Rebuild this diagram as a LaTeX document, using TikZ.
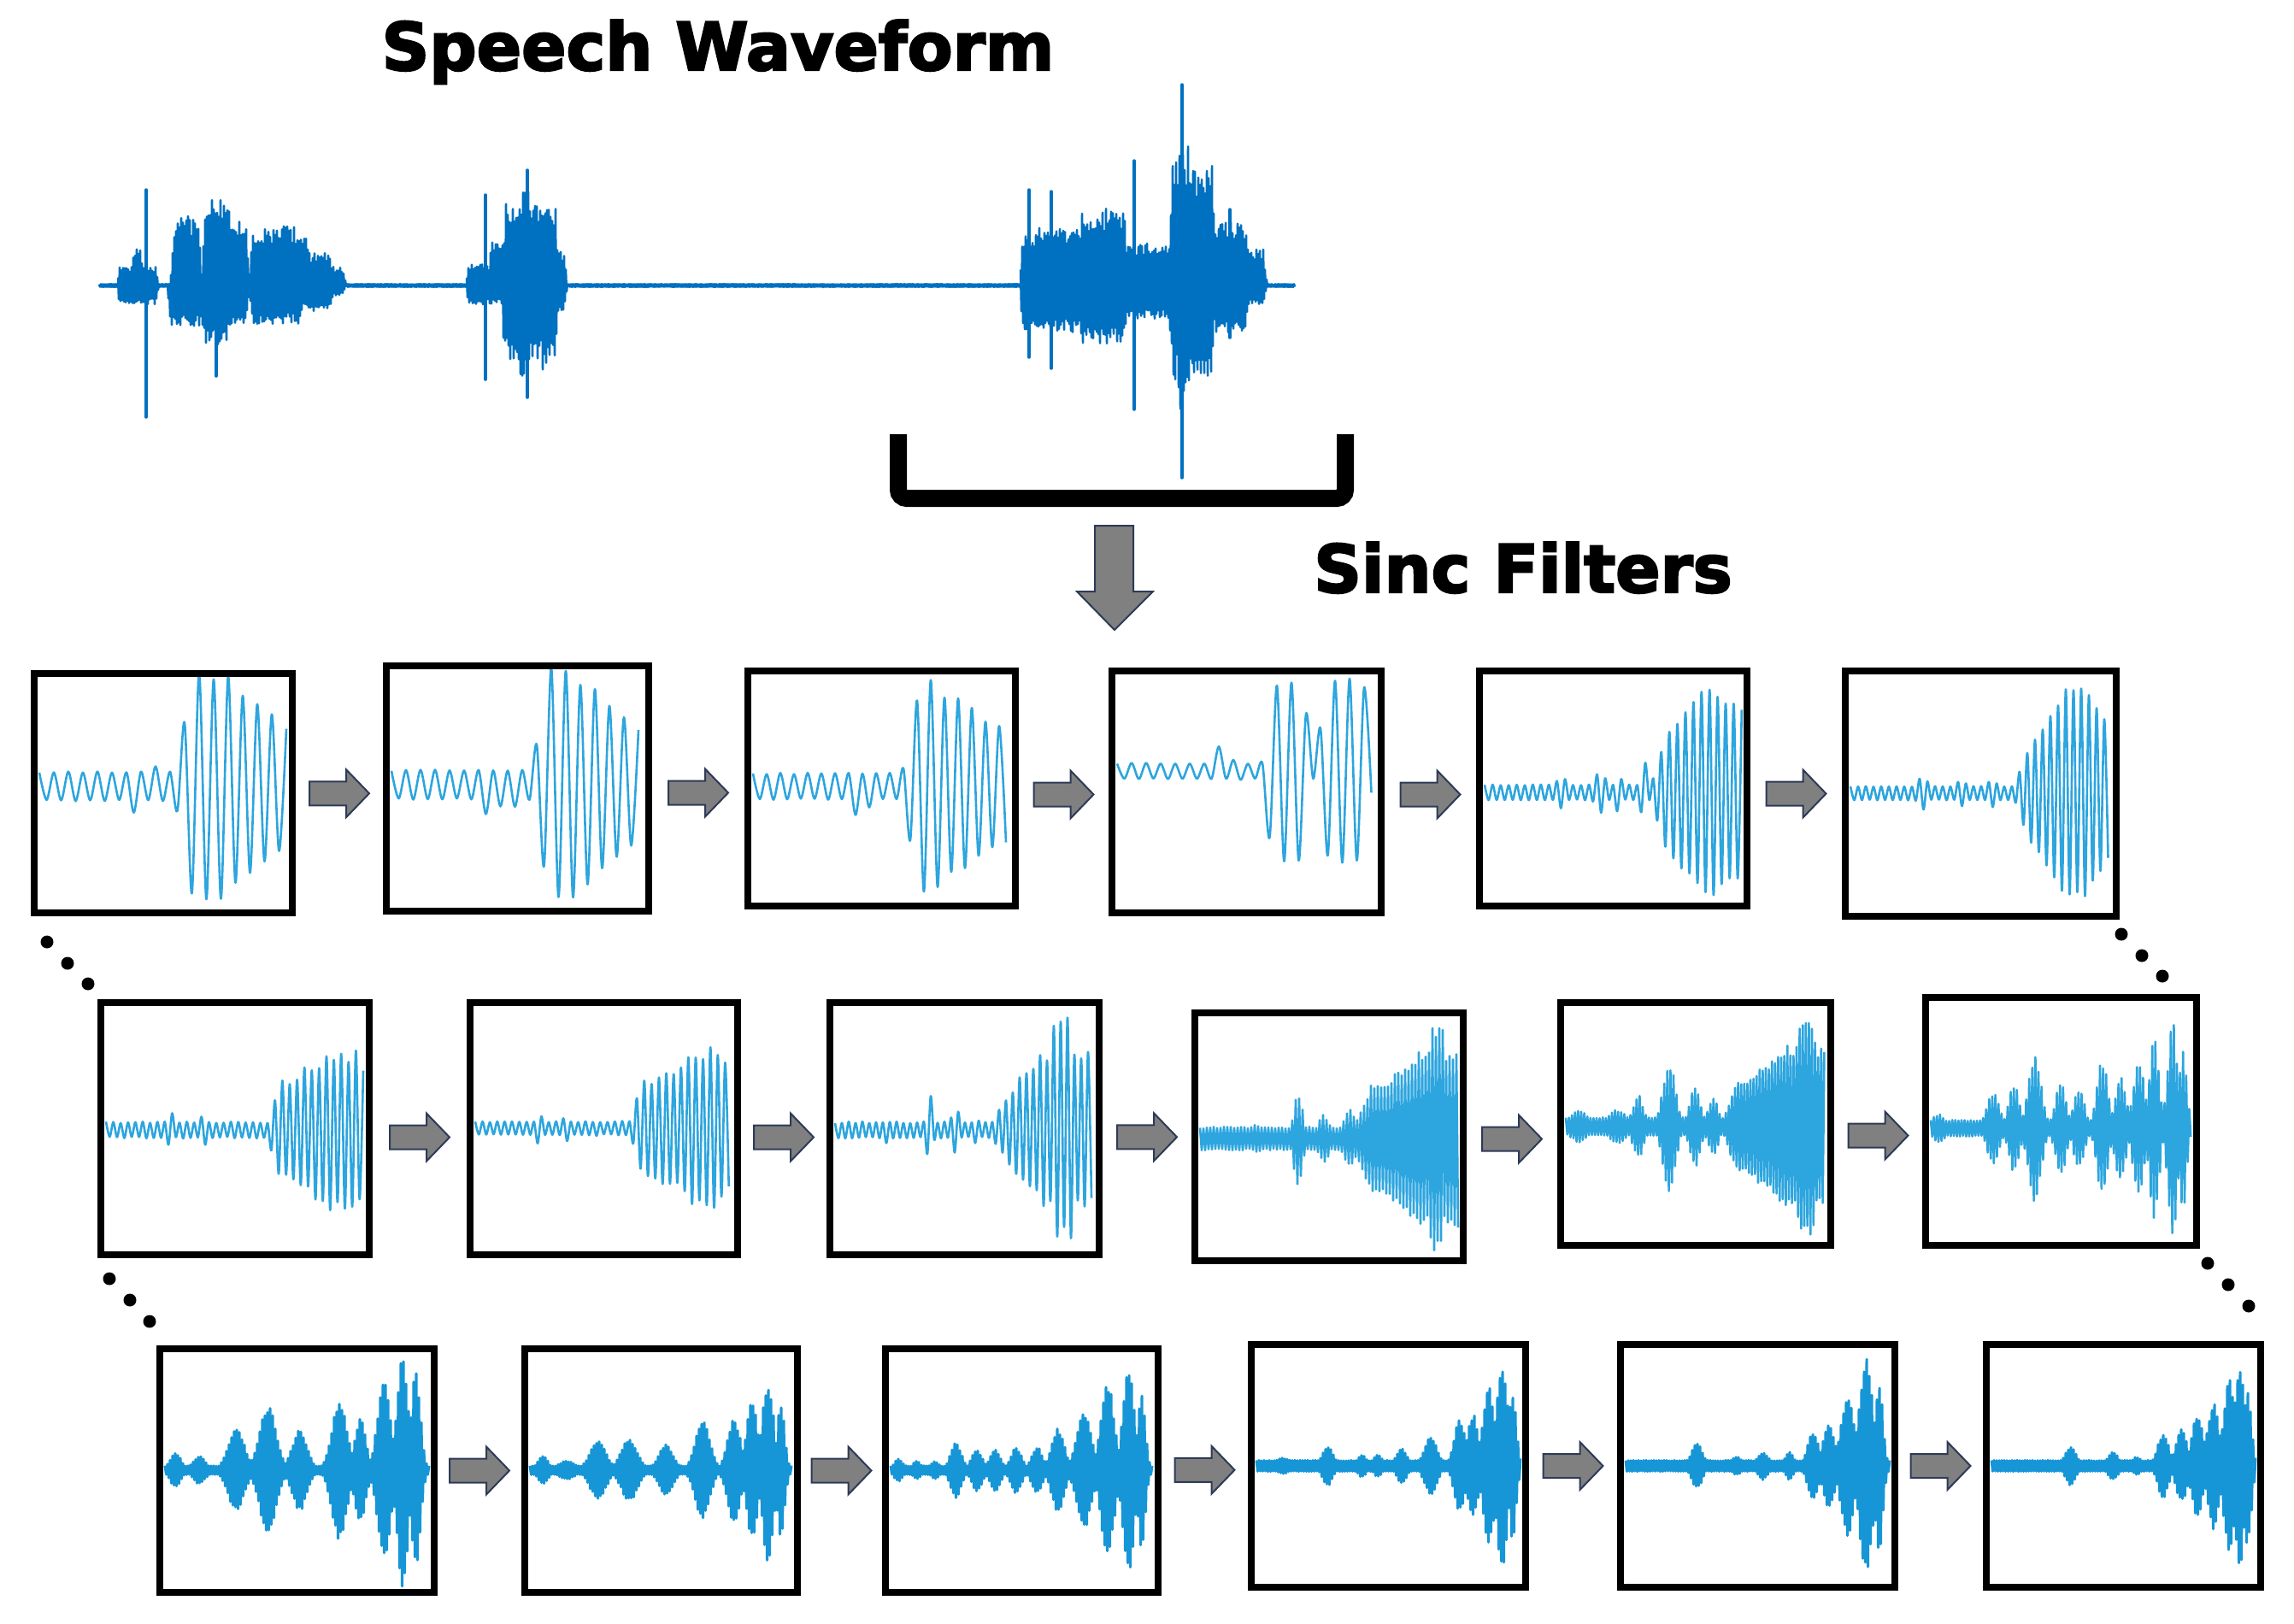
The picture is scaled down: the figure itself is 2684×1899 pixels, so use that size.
\documentclass[tikz,border=0pt]{standalone}
\usepackage{fontspec}
\setmainfont{DejaVu Sans}
\newfontfamily\heavyfont[FakeBold=3]{DejaVu Sans Bold}
\usetikzlibrary{calc,fit}

\definecolor{speechblue}{RGB}{0,112,192}
\definecolor{filterblue}{RGB}{45,165,222}
\definecolor{filterdeep}{RGB}{22,150,214}
\definecolor{arrowgray}{RGB}{128,128,128}
\definecolor{arrowedge}{RGB}{45,58,88}

\tikzset{
  plotbox/.style={draw=black, line width=0.75mm, inner sep=0pt},
  blockarrow/.style={fill=arrowgray, draw=arrowedge, line width=0.2mm},
  speechline/.style={draw=speechblue, line width=0.25mm, line join=round},
  speechspike/.style={draw=speechblue, line width=0.35mm, line cap=round},
  filterline/.style={draw=filterblue, line width=0.26mm, line join=round},
  denseline/.style={draw=filterdeep, line width=0.3mm, line join=round},
  bigtitle/.style={font=\fontsize{22}{26}\selectfont\heavyfont, inner sep=0pt, anchor=base},
  declare function={
    bp(\qq,\qc,\qw)=1/exp(pow(min(abs(\qq-\qc)/\qw,3),2));
    rp(\qq,\qa,\qb)=min(1,max(0,(\qq-\qa)/(\qb-\qa)));
    tr(\qq,\qa,\qb,\qs)=max(0,min(1,(\qq-\qa)/\qs+1,(\qb-\qq)/\qs+1));
    sg(\qq)=1-2*mod(round(\qq),2);
  }
}

% one piece of the speech signal, #3 = upper and #4 = lower amplitude
\newcommand{\speechpart}[4]{%
  \pgfmathtruncatemacro{\nsp}{#2-#1+1}
  \draw[speechline] plot[domain=#1:#2, samples=\nsp, variable=\x]
    ({\x}, {334-(0.5*(1+sg(\x))*(#3)-0.5*(1-sg(\x))*(#4))*(1-0.3*rnd)});
}

% name, x1, y1, x2, y2, baseline, half period, style, envelope in \q
\newcommand{\filterbox}[9]{%
  \pgfmathsetmacro{\hh}{(#5-#3)/2-6}
  \pgfmathtruncatemacro{\nk}{(#4-#2-12)/#7}
  \pgfmathtruncatemacro{\nks}{\nk+1}
  \begin{scope}[declare function={env(\q)=#9;}]
    \clip (#2+4,#3+4) rectangle (#4-4,#5-4);
    \draw[#8] plot[domain=0:\nk, samples=\nks, variable=\k]
      ({#2+6+#7*\k}, {#6-sg(\k)*\hh*env(\k/\nk)*(1-\jit*rnd)});
  \end{scope}
  \node[plotbox, fit={(#2,#3) (#4,#5)}] (#1) {};
}

\newcommand{\flowarrow}[3]{%
  \path ($(#1.east)!.5!(#2.west)$) ++(0,#3) coordinate (fa);
  \draw[blockarrow] ($(fa)+(-35,-14)$) -- ++(43,0) -- ++(0,-14) -- ++(27,28)
    -- ++(-27,28) -- ++(0,-14) -- ++(-43,0) -- cycle;
}

\begin{document}
\begin{tikzpicture}[x=0.1mm, y=-0.1mm]
  \useasboundingbox (0,0) rectangle (2684,1899);
  \pgfmathsetseed{11}

  \node[bigtitle] (title) at (840,82) {Speech Waveform};

  % speech signal
  \speechpart{116}{138}{2}{2}
  \speechpart{138}{405}
    {max(2, 22*tr(\x,140,182,4), 43*tr(\x,155,165,3),
      80*tr(\x,204,232,5), 93*tr(\x,214,222,3), 100*tr(\x,240,268,4), 75*tr(\x,268,288,4),
      70*tr(\x,296,345,5), 55*tr(\x,345,360,6), 38*tr(\x,360,385,8), 22*tr(\x,385,400,6))}
    {max(2, 22*tr(\x,140,182,4), 48*tr(\x,200,288,5),
      70*tr(\x,240,265,5), 45*tr(\x,296,350,5),
      30*tr(\x,350,385,8), 12*tr(\x,385,400,6))}
  \speechpart{405}{546}{2}{2}
  \speechpart{546}{665}
    {max(2, 25*tr(\x,548,590,4), 55*tr(\x,575,590,4),
      96*tr(\x,592,650,4), 120*tr(\x,612,621,4), 105*tr(\x,625,632,3), 40*tr(\x,650,660,4))}
    {max(2, 22*tr(\x,548,590,4), 87*tr(\x,590,650,4),
      115*tr(\x,606,614,4), 100*tr(\x,635,640,3), 30*tr(\x,650,660,4))}
  \speechpart{665}{1194}{2}{2}
  \speechpart{1194}{1490}
    {max(2, 60*tr(\x,1196,1215,3),
      70*tr(\x,1215,1262,4), 90*tr(\x,1265,1316,4),
      50*tr(\x,1318,1368,4), 145*tr(\x,1372,1418,6), 165*tr(\x,1380,1392,4),
      75*tr(\x,1418,1458,4), 43*tr(\x,1458,1478,5))}
    {max(2, 55*tr(\x,1196,1215,3),
      55*tr(\x,1215,1262,4), 68*tr(\x,1265,1316,4),
      40*tr(\x,1318,1368,4), 110*tr(\x,1372,1418,6), 150*tr(\x,1378,1390,4),
      55*tr(\x,1418,1458,4), 22*tr(\x,1458,1478,5))}
  \speechpart{1490}{1515}{2}{2}
  \draw[speechspike] (171,222) -- (171,488);
  \draw[speechspike] (253,330) -- (253,440);
  \draw[speechspike] (568,228) -- (568,444);
  \draw[speechspike] (617,199) -- (617,465);
  \draw[speechspike] (1204,222) -- (1204,418);
  \draw[speechspike] (1230,224) -- (1230,431);
  \draw[speechspike] (1327,188) -- (1327,479);
  \draw[speechspike] (1383,99) -- (1383,559);
  \draw[speechspike] (1439,245) -- (1439,395);

  % bracket and arrow down
  \draw[line width=2mm, rounded corners=1mm] (1051,508) -- (1051,583) -- (1574,583) -- (1574,508);
  \draw[blockarrow] (1281,615) -- (1326,615) -- (1326,692) -- (1349,692) -- (1304,737)
    -- (1260,692) -- (1281,692) -- cycle;
  \node[bigtitle] (sinc) at (1782,693) {Sinc Filters};

  % first row
  \def\jit{0.1}
  \filterbox{r1a}{40}{788}{342}{1068}{920}{8.5}{filterline, smooth}
    {max(0.13, 0.24*bp(\q,0.38,0.02), 0.18*bp(\q,0.47,0.02), rp(\q,0.54,0.62)*(1-0.45*rp(\q,0.75,1)))}
  \filterbox{r1b}{452}{779}{759}{1066}{918}{8.5}{filterline, smooth}
    {max(0.13, 0.26*bp(\q,0.38,0.02), 0.2*bp(\q,0.44,0.02), 0.2*bp(\q,0.5,0.02), rp(\q,0.56,0.64)*(1-0.5*rp(\q,0.72,1)))}
  \filterbox{r1c}{875}{785}{1188}{1060}{920}{8}{filterline, smooth}
    {max(0.12, 0.28*bp(\q,0.41,0.02), 0.2*bp(\q,0.46,0.02), 0.95*rp(\q,0.58,0.66)*(1-0.45*rp(\q,0.7,1)))}
  \filterbox{r1d}{1301}{785}{1616}{1068}{902}{8.5}{filterline, smooth}
    {max(0.07, 0.22*bp(\q,0.4,0.025), 0.15*bp(\q,0.47,0.02), 0.8*tr(\q,0.61,0.73,0.04), 0.8*tr(\q,0.82,0.97,0.04))}
  \filterbox{r1e}{1731}{785}{2044}{1060}{927}{4.7}{filterline, smooth}
    {max(0.07, 0.15*bp(\q,0.3,0.03), 0.2*bp(\q,0.45,0.03), 0.18*bp(\q,0.52,0.02), 0.3*bp(\q,0.62,0.015),
      rp(\q,0.64,0.7)*(0.5+0.45*rp(\q,0.7,0.86)-0.2*rp(\q,0.9,1)))}
  \filterbox{r1f}{2159}{785}{2476}{1072}{928}{4.5}{filterline, smooth}
    {max(0.06, 0.15*bp(\q,0.28,0.03), 0.12*bp(\q,0.43,0.03), 0.12*bp(\q,0.55,0.03),
      rp(\q,0.63,0.68)*(0.35+0.55*rp(\q,0.68,0.83)-0.3*rp(\q,0.92,1)))}
  \flowarrow{r1a}{r1b}{3}
  \flowarrow{r1b}{r1c}{5}
  \flowarrow{r1c}{r1d}{5}
  \flowarrow{r1d}{r1e}{5}
  \flowarrow{r1e}{r1f}{3}

  % second row
  \def\jit{0.2}
  \filterbox{r2a}{118}{1173}{432}{1468}{1322}{4.3}{filterline, smooth}
    {max(0.07, 0.16*bp(\q,0.25,0.02), 0.16*bp(\q,0.38,0.02), 0.08*bp(\q,0.52,0.03),
      rp(\q,0.62,0.68)*(0.45+0.25*rp(\q,0.7,0.88)-0.1*rp(\q,0.95,1)))}
  \filterbox{r2b}{550}{1173}{863}{1468}{1320}{4.3}{filterline, smooth}
    {max(0.06, 0.14*bp(\q,0.25,0.02), 0.13*bp(\q,0.36,0.02), 0.07*bp(\q,0.48,0.03),
      rp(\q,0.6,0.66)*(0.4+0.28*rp(\q,0.7,0.88)-0.1*rp(\q,0.94,1)))}
  \filterbox{r2c}{971}{1173}{1286}{1468}{1322}{4}{filterline, smooth}
    {max(0.07, 0.12*bp(\q,0.2,0.02), 0.33*bp(\q,0.37,0.015), 0.22*bp(\q,0.47,0.02), 0.12*bp(\q,0.55,0.02),
      rp(\q,0.6,0.68)*(0.35+0.3*rp(\q,0.68,0.8)), 0.97*tr(\q,0.85,0.92,0.02))}
  \def\jit{0.15}
  \filterbox{r2d}{1398}{1185}{1712}{1475}{1332}{2}{filterline}
    {max(0.1, 0.12*bp(\q,0.22,0.05), 0.4*bp(\q,0.38,0.025), 0.2*bp(\q,0.48,0.035), 0.25*bp(\q,0.58,0.035),
      rp(\q,0.58,0.66)*(0.45+0.3*rp(\q,0.7,0.85)), 0.97*tr(\q,0.89,0.94,0.02), 0.7*bp(\q,0.97,0.02))}
  \filterbox{r2e}{1826}{1173}{2142}{1457}{1318}{1.8}{filterline}
    {max(0.08, 0.14*bp(\q,0.05,0.05), 0.15*bp(\q,0.2,0.05), 0.28*bp(\q,0.28,0.03), 0.56*bp(\q,0.4,0.035),
      0.35*bp(\q,0.5,0.03), 0.25*bp(\q,0.57,0.03), rp(\q,0.6,0.66)*(0.4+0.3*rp(\q,0.7,0.85)), 0.97*tr(\q,0.9,0.96,0.02))}
  \filterbox{r2f}{2253}{1167}{2570}{1457}{1320}{1.8}{filterline}
    {max(0.07, 0.12*bp(\q,0.03,0.04), 0.3*bp(\q,0.24,0.035), 0.38*bp(\q,0.32,0.03), 0.62*bp(\q,0.4,0.035),
      0.4*bp(\q,0.5,0.03), 0.35*bp(\q,0.57,0.03), 0.58*bp(\q,0.66,0.03), 0.45*bp(\q,0.73,0.03),
      0.6*bp(\q,0.8,0.03), 0.8*bp(\q,0.86,0.025), 0.98*bp(\q,0.93,0.025), 0.7*bp(\q,0.97,0.02))}
  \flowarrow{r2a}{r2b}{10}
  \flowarrow{r2b}{r2c}{10}
  \flowarrow{r2c}{r2d}{5}
  \flowarrow{r2d}{r2e}{10}
  \flowarrow{r2e}{r2f}{15}

  % third row
  \def\jit{0.12}
  \filterbox{r3a}{187}{1578}{508}{1863}{1720}{1.5}{denseline}
    {max(0.04, 0.15*bp(\q,0.04,0.03), 0.12*bp(\q,0.13,0.035), 0.35*bp(\q,0.27,0.045), 0.55*bp(\q,0.39,0.045),
      0.35*bp(\q,0.51,0.04), 0.6*bp(\q,0.66,0.04), 0.45*bp(\q,0.74,0.03), 0.78*bp(\q,0.83,0.035),
      1.0*bp(\q,0.9,0.03), 0.85*bp(\q,0.95,0.025))}
  \filterbox{r3b}{614}{1578}{933}{1863}{1720}{1.5}{denseline}
    {max(0.04, 0.12*bp(\q,0.05,0.03), 0.08*bp(\q,0.14,0.05), 0.25*bp(\q,0.26,0.045), 0.27*bp(\q,0.38,0.045),
      0.22*bp(\q,0.52,0.04), 0.42*bp(\q,0.66,0.04), 0.45*bp(\q,0.78,0.035), 0.6*bp(\q,0.85,0.03),
      0.78*bp(\q,0.91,0.03), 0.6*bp(\q,0.96,0.02))}
  \filterbox{r3c}{1036}{1578}{1355}{1863}{1720}{1.5}{denseline}
    {max(0.04, 0.1*bp(\q,0.03,0.025), 0.08*bp(\q,0.1,0.025), 0.08*bp(\q,0.17,0.025), 0.24*bp(\q,0.25,0.03),
      0.18*bp(\q,0.33,0.03), 0.18*bp(\q,0.4,0.03), 0.2*bp(\q,0.48,0.03), 0.2*bp(\q,0.56,0.03),
      0.36*bp(\q,0.64,0.035), 0.5*bp(\q,0.74,0.04), 0.75*bp(\q,0.83,0.035), 0.9*bp(\q,0.91,0.03), 0.7*bp(\q,0.96,0.02))}
  \filterbox{r3d}{1464}{1573}{1785}{1857}{1715}{1.5}{denseline}
    {max(0.05, 0.07*bp(\q,0.1,0.04), 0.17*bp(\q,0.27,0.03), 0.1*bp(\q,0.4,0.025), 0.1*bp(\q,0.46,0.025),
      0.15*bp(\q,0.55,0.03), 0.25*bp(\q,0.66,0.035), 0.4*bp(\q,0.77,0.03), 0.45*bp(\q,0.82,0.03),
      0.7*bp(\q,0.88,0.03), 0.88*bp(\q,0.93,0.03), 0.65*bp(\q,0.97,0.02))}
  \filterbox{r3e}{1896}{1573}{2217}{1857}{1715}{1.5}{denseline}
    {max(0.05, 0.2*bp(\q,0.27,0.03), 0.08*bp(\q,0.42,0.03), 0.12*bp(\q,0.52,0.03), 0.12*bp(\q,0.62,0.025),
      0.3*bp(\q,0.71,0.03), 0.38*bp(\q,0.77,0.03), 0.6*bp(\q,0.84,0.035), 0.93*bp(\q,0.91,0.035), 0.75*bp(\q,0.96,0.02))}
  \filterbox{r3f}{2324}{1573}{2645}{1857}{1715}{1.5}{denseline}
    {max(0.05, 0.17*bp(\q,0.3,0.03), 0.12*bp(\q,0.46,0.03), 0.08*bp(\q,0.55,0.025), 0.28*bp(\q,0.65,0.03),
      0.32*bp(\q,0.72,0.03), 0.45*bp(\q,0.78,0.03), 0.55*bp(\q,0.84,0.03), 0.75*bp(\q,0.9,0.03),
      0.92*bp(\q,0.94,0.025), 0.7*bp(\q,0.97,0.02))}
  \flowarrow{r3a}{r3b}{0}
  \flowarrow{r3b}{r3c}{0}
  \flowarrow{r3c}{r3d}{2}
  \flowarrow{r3d}{r3e}{0}
  \flowarrow{r3e}{r3f}{0}

  % dots between the rows
  \foreach \dx/\dy in {55/1102, 79/1127, 103/1151, 128/1496, 152/1521, 175/1546,
                       2482/1093, 2506/1118, 2530/1142, 2583/1478, 2607/1503, 2631/1528}
    \fill (\dx,\dy) circle[radius=0.75mm];
\end{tikzpicture}
\end{document}
